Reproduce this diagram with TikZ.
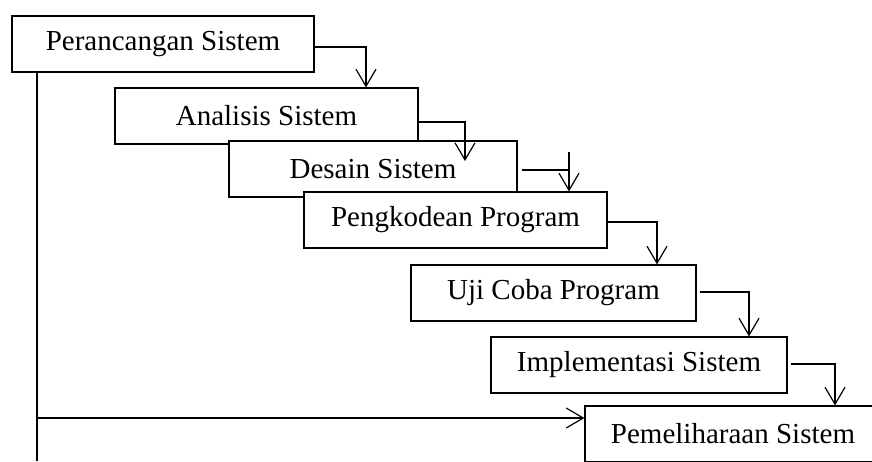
\documentclass[tikz,border=0pt]{standalone}
\usepackage{fontspec}
\setmainfont{Liberation Serif}
\usetikzlibrary{arrows.meta}

\begin{document}
\begin{tikzpicture}[x=1pt, y=-1pt,
    tahap/.style={draw, fill=white, line width=1.2pt, minimum height=56pt, inner sep=0pt, font=\fontsize{29}{34}\selectfont},
    alur/.style={line width=1.2pt, -{Straight Barb[length=17pt,width=20pt]}}]
    \useasboundingbox (0,0) rectangle (872,461);

    % Kotak tiap tahap
    \node[tahap, minimum width=302pt] (perancangan) at (163,44) {Perancangan Sistem};
    \node[tahap, minimum width=303pt] (analisis) at (266.5,116) {Analisis Sistem};
    \node[tahap, minimum width=288pt] (desain) at (373,169) {Desain Sistem};
    \node[tahap, minimum width=303pt] (pengkodean) at (455.5,220) {Pengkodean Program};
    \node[tahap, minimum width=285pt] (uji) at (553.5,293) {Uji Coba Program};
    \node[tahap, minimum width=296pt] (implementasi) at (639,365) {Implementasi Sistem};
    \node[tahap, minimum width=296pt] (pemeliharaan) at (733,434) {Pemeliharaan Sistem};

    % Titik belok garis alur
    \coordinate (b1) at (366,47);
    \coordinate (b2) at (465,122);
    \coordinate (e2) at (465,161);
    \coordinate (b3) at (569,170);
    \coordinate (s3) at (569,152);
    \coordinate (b4) at (657,222);
    \coordinate (b5) at (749,292);
    \coordinate (b6) at (835,364);

    % Garis alur antar tahap
    \draw[alur] (b1 -| perancangan.east) -- (b1) -- (b1 |- analisis.north);
    \draw[alur] (b2 -| analisis.east) -- (b2) -- (e2);
    \draw[line width=1.2pt] ([xshift=4pt]b3 -| desain.east) -- (b3);
    \draw[alur] (s3) -- (s3 |- pengkodean.north);
    \draw[alur] (b4 -| pengkodean.east) -- (b4) -- (b4 |- uji.north);
    \draw[alur] ([xshift=3pt]b5 -| uji.east) -- (b5) -- (b5 |- implementasi.north);
    \draw[alur] ([xshift=3pt]b6 -| implementasi.east) -- (b6) -- (b6 |- pemeliharaan.north);

    % Garis kiri ke pemeliharaan
    \coordinate (kiri) at (37,461);
    \coordinate (m) at (37,418);
    \draw[line width=1.2pt] (kiri |- perancangan.south) -- (kiri);
    \draw[alur] (m) -- (m -| pemeliharaan.west);

\end{tikzpicture}
\end{document}
